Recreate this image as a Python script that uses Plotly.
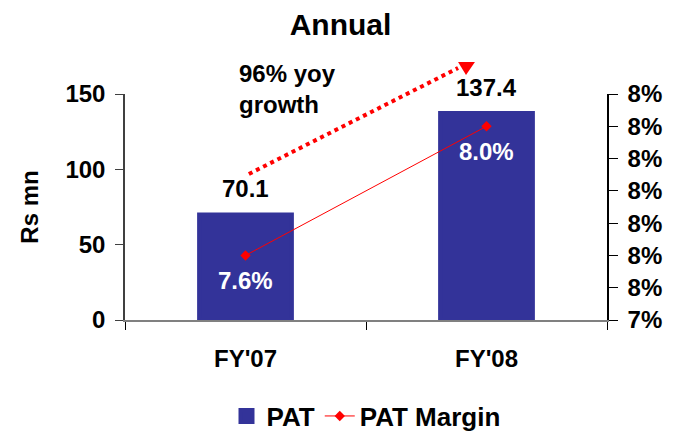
import plotly.graph_objects as go

# === Data ===
years = ["FY'07", "FY'08"]
pat = [70.1, 137.4]            # Rs mn
pat_margin = [7.6, 8.0]         # %
margin_ticks = [7.4, 7.5, 7.6, 7.7, 7.8, 7.9, 8.0, 8.1]
margin_tick_text = ["7%", "8%", "8%", "8%", "8%", "8%", "8%", "8%"]

growth = round((pat[1] / pat[0] - 1) * 100)

FONT = "Liberation Sans, Arial, sans-serif"
BLUE = "#333399"
RED = "#ff0000"

# the page body adds an 8px margin, so the figure is drawn 8px smaller
W, H = 665, 424

fig = go.Figure()

fig.add_trace(go.Bar(
    x=years, y=pat, name="PAT",
    marker=dict(color=BLUE, line=dict(width=4, color=BLUE)),
    width=0.385,
))

fig.add_trace(go.Scatter(
    x=years, y=pat_margin, name="PAT Margin", yaxis="y2",
    mode="lines+markers",
    line=dict(color=RED, width=1),
    marker=dict(symbol="diamond", size=8, color=RED),
))

# value labels
annotations = []
for yr, v in zip(years, pat):
    annotations.append(dict(
        x=yr, y=v, xref="x", yref="y", text=f"{v:.1f}", showarrow=False,
        yanchor="bottom", yshift=10,
        font=dict(family=FONT, size=24, color="black", weight="bold"),
    ))
for yr, m in zip(years, pat_margin):
    annotations.append(dict(
        x=yr, y=m, xref="x", yref="y2", text=f"{m:.1f}%", showarrow=False,
        yanchor="middle", yshift=-25,
        font=dict(family=FONT, size=24, color="white", weight="bold"),
    ))
annotations.append(dict(
    x=0.232, y=1.02, xref="paper", yref="paper", showarrow=False,
    text=f"{growth}% yoy<br>growth", align="left",
    xanchor="left", yanchor="middle",
    font=dict(family=FONT, size=24, color="black", weight="bold"),
))

# dotted growth arrow
shapes = [
    dict(type="line", xref="paper", yref="paper",
         x0=0.257, y0=0.646, x1=0.691, y1=1.115,
         line=dict(color=RED, width=4, dash="dot")),
    dict(type="path", xref="paper", yref="paper",
         path="M 0.691,1.1416 L 0.726,1.1416 L 0.7075,1.084 Z",
         fillcolor=RED, line=dict(color=RED, width=0)),
]

tick_font = dict(family=FONT, size=24, color="black", weight="bold")

fig.update_layout(
    width=W, height=H, autosize=False,
    margin=dict(l=117, r=66, t=86, b=112, autoexpand=False),
    paper_bgcolor="white", plot_bgcolor="white",
    font=dict(family=FONT, size=24, color="black", weight="bold"),
    title=dict(text="Annual", x=0.5, xref="container", y=1 - 16 / H, yref="container",
               xanchor="center", yanchor="middle",
               font=dict(family=FONT, size=30, color="black", weight="bold")),
    bargap=0.6,
    showlegend=True,
    legend=dict(orientation="h", x=0.5, xanchor="center", y=-0.425, yanchor="middle",
                font=dict(family=FONT, size=26, color="black", weight="bold"),
                itemwidth=30, tracegroupgap=0),
    xaxis=dict(type="category", tickson="boundaries", ticks="outside", ticklen=8,
               tickcolor="black", showline=True, linecolor="#808080", linewidth=1.5,
               showgrid=False, zeroline=False, tickfont=tick_font,
               ticklabelstandoff=16, automargin=False),
    # inside half of the crossing category ticks
    xaxis2=dict(overlaying="x", anchor="y", range=[-0.5, 1.5],
                tickvals=[-0.5, 0.5, 1.5], ticks="inside", ticklen=8,
                tickcolor="black", showticklabels=False, showline=False,
                showgrid=False, zeroline=False, automargin=False),
    yaxis=dict(range=[0, 150], dtick=50, ticks="outside", ticklen=8, tickcolor="#404040",
               showline=True, linecolor="#404040", linewidth=1.5, showgrid=False,
               zeroline=False, tickfont=tick_font, ticklabelstandoff=5, automargin=False,
               title=dict(text="Rs mn", standoff=20,
                          font=dict(family=FONT, size=24, color="black", weight="bold"))),
    yaxis2=dict(range=[7.4, 8.1], overlaying="y", side="right", anchor="x",
                tickvals=margin_ticks, ticktext=margin_tick_text,
                ticks="outside", ticklen=9, tickcolor="black",
                showline=True, linecolor="black", linewidth=1.5, showgrid=False,
                zeroline=False, tickfont=tick_font, ticklabelstandoff=5, automargin=False),
    # inside halves of the crossing value ticks
    yaxis3=dict(range=[0, 150], dtick=50, overlaying="y", side="left", anchor="x",
                ticks="inside", ticklen=9, tickcolor="#404040", showticklabels=False,
                showline=False, showgrid=False, zeroline=False, automargin=False),
    yaxis4=dict(range=[7.4, 8.1], overlaying="y", side="right", anchor="x",
                tickvals=margin_ticks, ticks="inside", ticklen=9, tickcolor="black",
                showticklabels=False, showline=False, showgrid=False, zeroline=False,
                automargin=False),
    annotations=annotations,
    shapes=shapes,
)

fig.write_html("out.html")
